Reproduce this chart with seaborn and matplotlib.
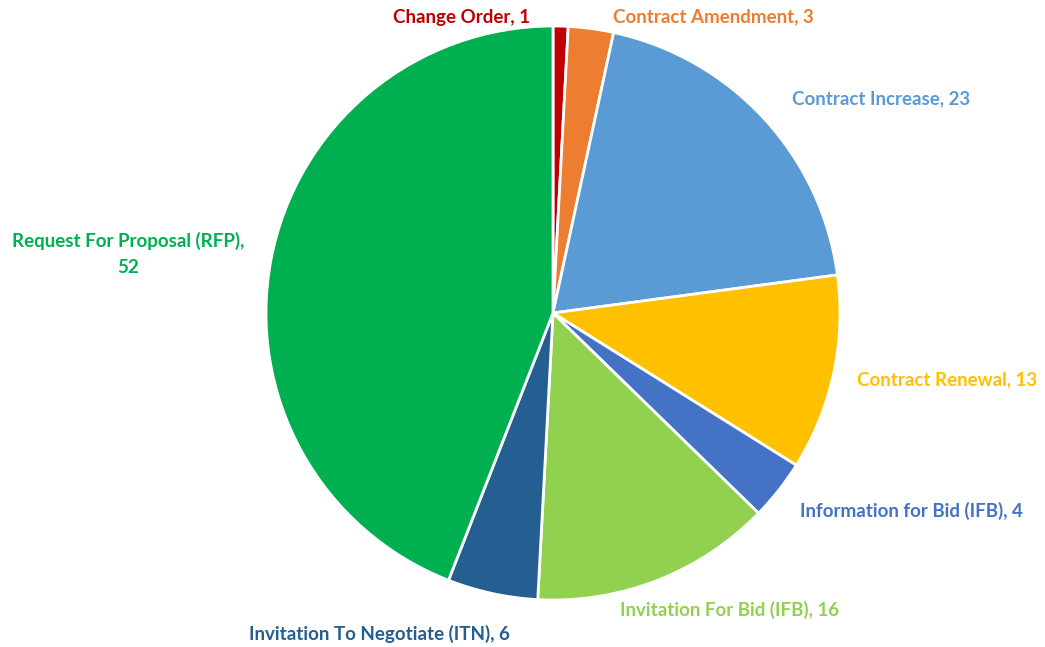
import matplotlib
matplotlib.use("Agg")
import matplotlib.pyplot as plt
import seaborn as sns

sns.set_theme(style="white")
plt.rcParams['font.family'] = ['Lato', 'DejaVu Sans']

# data
categories = ["Change Order", "Contract Amendment", "Contract Increase", "Contract Renewal",
              "Information for Bid (IFB)", "Invitation For Bid (IFB)",
              "Invitation To Negotiate (ITN)", "Request For Proposal (RFP)"]
counts = [1, 3, 23, 13, 4, 16, 6, 52]
colors = ["#C00000", "#ED7D31", "#5B9BD5", "#FFC000", "#4472C4", "#92D050", "#255E91", "#00B050"]

# label layout (data units, radius = 1)
label_xy = [(-0.08, 1.031), (0.209, 1.031), (0.833, 0.746), (1.059, -0.233),
            (0.861, -0.690), (0.233, -1.035), (-1.059, -1.118), (-1.481, 0.206)]
label_ha = ["right", "left", "left", "left", "left", "left", "left", "center"]

fig = plt.figure(figsize=(10.45, 6.47), dpi=100)
ax = fig.add_axes([0, 0, 1, 1])
wedges, _ = ax.pie(counts, colors=colors, startangle=90, counterclock=False,
                   wedgeprops=dict(edgecolor="white", linewidth=2))
ax.set_xlim(-553 / 287, (1045 - 553) / 287)
ax.set_ylim(-(647 - 313) / 287, 313 / 287)
ax.set_aspect("auto")
ax.axis("off")

for name, n, c, (x, y), ha in zip(categories, counts, colors, label_xy, label_ha):
    txt = f"{name}, {n}"
    if ha == "center":
        txt = f"{name},\n{n}"
    ax.text(x, y, txt, color=c, ha=ha, va="center", fontsize=13.5, fontweight="bold",
            linespacing=1.6)

fig.savefig("out.png", dpi=100)
